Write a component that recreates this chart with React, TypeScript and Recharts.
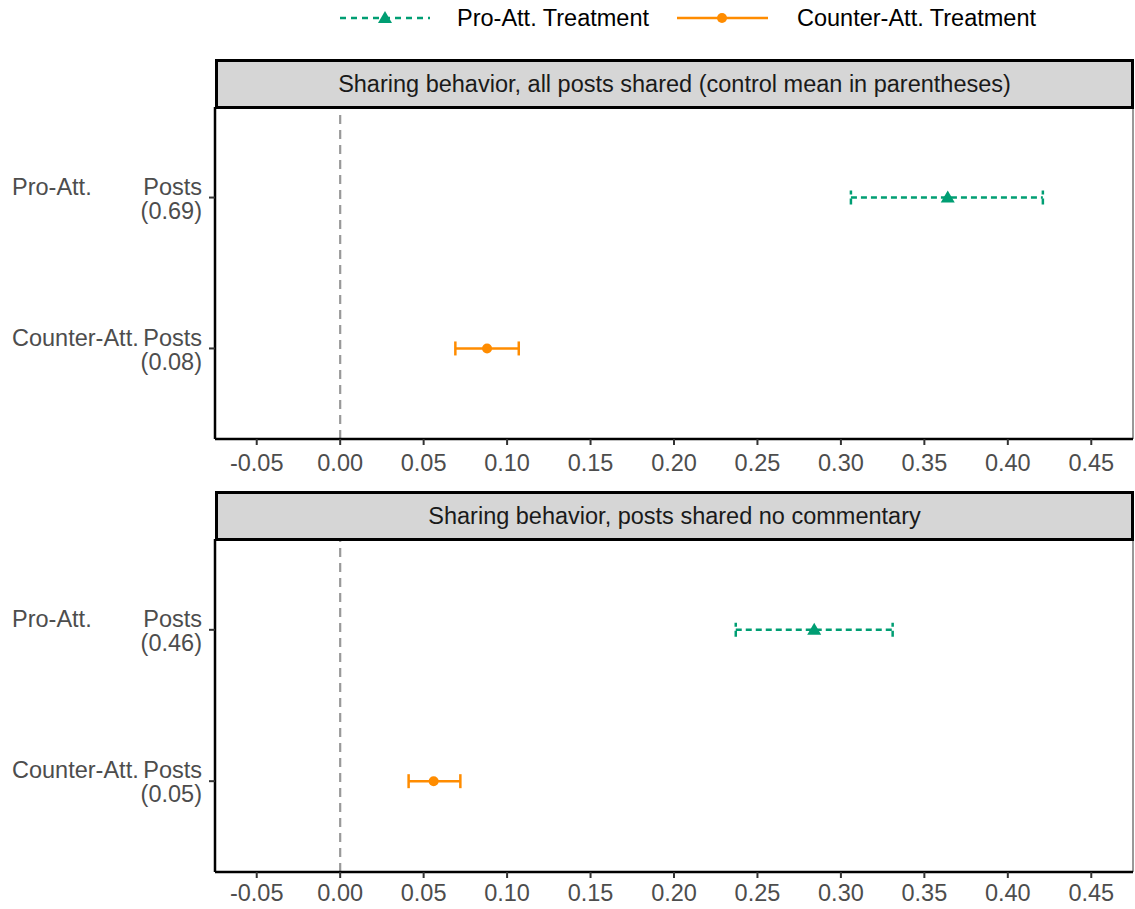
import React from "react";
import {
  ErrorBar,
  ReferenceArea,
  ReferenceLine,
  Scatter,
  ScatterChart,
  XAxis,
  YAxis,
} from "recharts";

const panelTitles = [
  "Sharing behavior, all posts shared (control mean in parentheses)",
  "Sharing behavior, posts shared no commentary",
];
const postTypes = ["Pro-Att. Posts", "Counter-Att. Posts"];
const controlMeans = [
  [0.69, 0.08],
  [0.46, 0.05],
];
const seriesNames = ["Pro-Att. Treatment", "Counter-Att. Treatment"];

// estimates + 95% CI, one value per panel
const proEst = [0.364, 0.284];
const proLow = [0.306, 0.237];
const proHigh = [0.421, 0.331];
const counterEst = [0.088, 0.056];
const counterLow = [0.069, 0.041];
const counterHigh = [0.107, 0.072];

const xTicks = [-0.05, 0, 0.05, 0.1, 0.15, 0.2, 0.25, 0.3, 0.35, 0.4, 0.45];

const GREEN = "#009E73";
const ORANGE = "#FF8C00";
const FONT = "Liberation Sans, Arial, sans-serif";
const FS = 23.5;

const Triangle = (props: any) => {
  const { cx, cy } = props;
  return (
    <polygon
      points={`${cx},${cy - 7} ${cx - 7},${cy + 5} ${cx + 7},${cy + 5}`}
      fill={GREEN}
    />
  );
};

const Dot = (props: any) => {
  const { cx, cy } = props;
  return <circle cx={cx} cy={cy} r={5} fill={ORANGE} />;
};

function YTick(props: any) {
  const { x, y, payload, panel } = props;
  const i = payload.value - 1;
  const words = postTypes[i].split(" ");
  return (
    <g fontFamily={FONT} fontSize={FS} fill="#4D4D4D">
      <text x={12} y={y - 11} dy="0.35em" textAnchor="start" fill="#4D4D4D">
        {words[0]}
      </text>
      <text x={x} y={y - 11} dy="0.35em" textAnchor="end" fill="#4D4D4D">
        {words[1]}
      </text>
      <text x={x} y={y + 13} dy="0.35em" textAnchor="end" fill="#4D4D4D">
        ({controlMeans[panel][i].toFixed(2)})
      </text>
    </g>
  );
}

function Panel({
  panel,
  height,
  top,
  axisHeight,
  tickMargin,
}: {
  panel: number;
  height: number;
  top: number;
  axisHeight: number;
  tickMargin: number;
}) {
  const proData = [
    {
      est: proEst[panel],
      y: 1,
      err: [proEst[panel] - proLow[panel], proHigh[panel] - proEst[panel]],
    },
  ];
  const counterData = [
    {
      est: counterEst[panel],
      y: 2,
      err: [
        counterEst[panel] - counterLow[panel],
        counterHigh[panel] - counterEst[panel],
      ],
    },
  ];
  return (
    <div style={{ position: "relative", width: 1135, height }}>
      <ScatterChart
        width={1135}
        height={height}
        margin={{ top, right: 2, bottom: 0, left: 0 }}
      >
        <XAxis
          type="number"
          dataKey="est"
          domain={[-0.075, 0.475]}
          allowDataOverflow
          ticks={xTicks}
          tickFormatter={(v: number) => v.toFixed(2)}
          height={axisHeight}
          tickSize={6}
          tickMargin={tickMargin}
          axisLine={{ stroke: "#000", strokeWidth: 2.5 }}
          tickLine={{ stroke: "#333", strokeWidth: 2 }}
          tick={{ fill: "#4D4D4D", fontSize: FS, fontFamily: FONT }}
        />
        <YAxis
          type="number"
          dataKey="y"
          domain={[0.4, 2.6]}
          reversed
          ticks={[1, 2]}
          width={215}
          tickSize={6}
          tickMargin={7}
          axisLine={{ stroke: "#000", strokeWidth: 2.5 }}
          tickLine={{ stroke: "#333", strokeWidth: 2 }}
          tick={<YTick panel={panel} />}
        />
        <ReferenceArea
          x1={-0.075}
          x2={0.475}
          y1={0.4}
          y2={2.6}
          fill="none"
          stroke="#333"
          strokeWidth={1}
          fillOpacity={0}
        />
        <ReferenceLine
          x={0}
          stroke="#999"
          strokeWidth={2.2}
          strokeDasharray="9 6"
        />
        <Scatter
          name={seriesNames[0]}
          data={proData}
          shape={Triangle}
          isAnimationActive={false}
        >
          <ErrorBar
            dataKey="err"
            direction="x"
            width={7}
            stroke={GREEN}
            strokeWidth={2.5}
            strokeDasharray="6 4"
          />
        </Scatter>
        <Scatter
          name={seriesNames[1]}
          data={counterData}
          shape={Dot}
          isAnimationActive={false}
        >
          <ErrorBar
            dataKey="err"
            direction="x"
            width={7}
            stroke={ORANGE}
            strokeWidth={2.5}
          />
        </Scatter>
      </ScatterChart>
      <div
        style={{
          position: "absolute",
          left: 215,
          top: top - 48,
          width: 919,
          height: 50,
          boxSizing: "border-box",
          border: "3px solid #000",
          background: "#D6D6D6",
          display: "flex",
          alignItems: "center",
          justifyContent: "center",
          fontFamily: FONT,
          fontSize: FS,
          color: "#1A1A1A",
        }}
      >
        {panelTitles[panel]}
      </div>
    </div>
  );
}

function Legend() {
  return (
    <svg
      width={1135}
      height={40}
      style={{ position: "absolute", left: 0, top: 0 }}
      fontFamily={FONT}
      fontSize={FS}
    >
      <line
        x1={340}
        x2={430}
        y1={18}
        y2={18}
        stroke={GREEN}
        strokeWidth={2.5}
        strokeDasharray="6 5"
      />
      <polygon points="385,11 378,23 392,23" fill={GREEN} />
      <text x={457} y={18} dy="0.35em" fill="#000">
        {seriesNames[0]}
      </text>
      <line x1={677} x2={768} y1={18} y2={18} stroke={ORANGE} strokeWidth={2.5} />
      <circle cx={722} cy={18} r={5} fill={ORANGE} />
      <text x={797} y={18} dy="0.35em" fill="#000">
        {seriesNames[1]}
      </text>
    </svg>
  );
}

export default function App() {
  return (
    <div
      style={{
        position: "absolute",
        left: 0,
        top: 0,
        width: 1135,
        height: 909,
        background: "#fff",
      }}
    >
      <Legend />
      <Panel panel={0} height={480} top={107} axisHeight={41} tickMargin={9} />
      <Panel panel={1} height={429} top={59} axisHeight={37} tickMargin={6} />
    </div>
  );
}
